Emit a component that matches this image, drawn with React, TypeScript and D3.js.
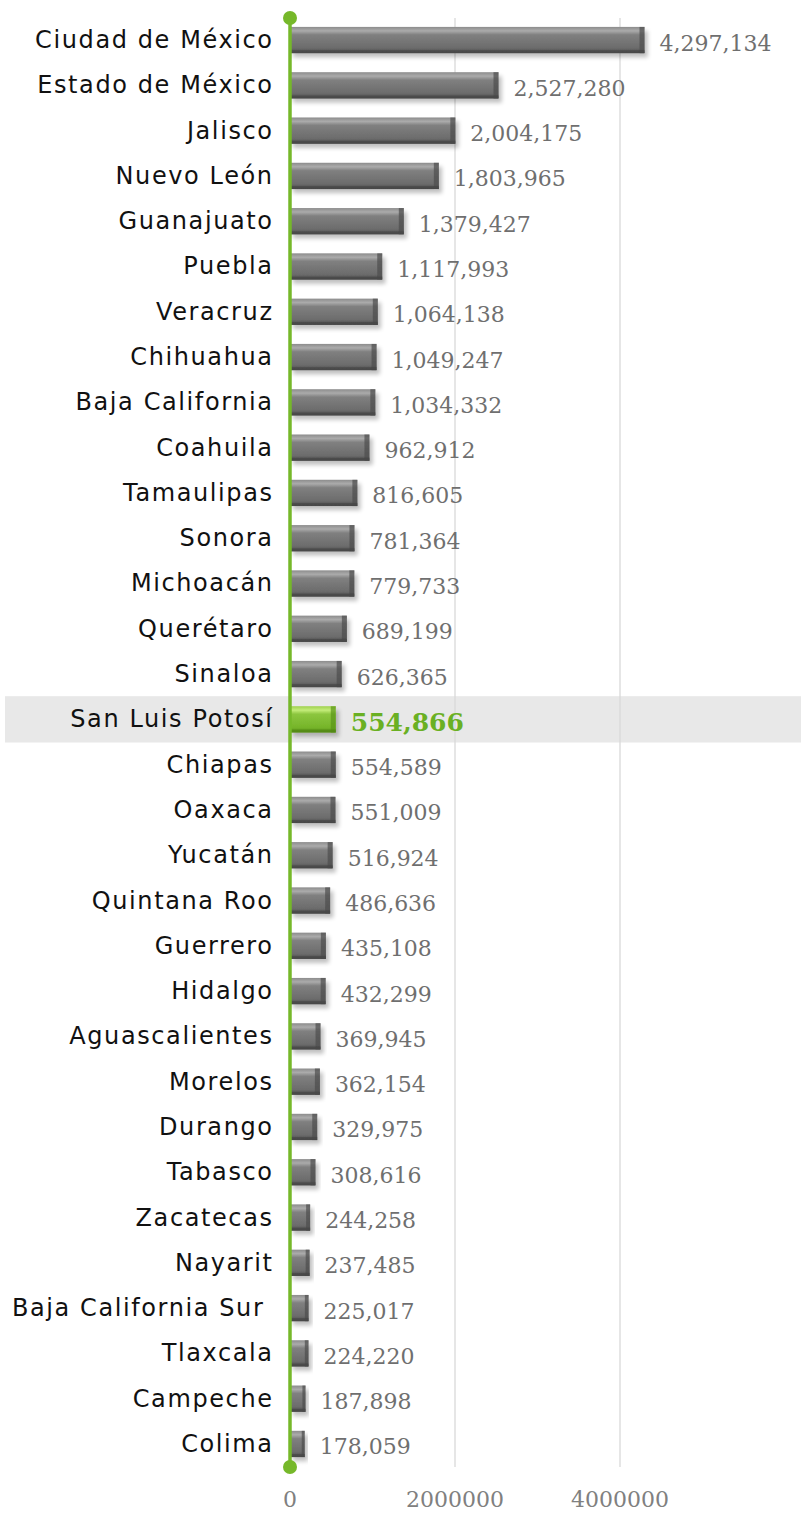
import React from "react";
import * as d3 from "d3";

const states = ["Ciudad de México","Estado de México","Jalisco","Nuevo León","Guanajuato","Puebla","Veracruz","Chihuahua","Baja California","Coahuila","Tamaulipas","Sonora","Michoacán","Querétaro","Sinaloa","San Luis Potosí","Chiapas","Oaxaca","Yucatán","Quintana Roo","Guerrero","Hidalgo","Aguascalientes","Morelos","Durango","Tabasco","Zacatecas","Nayarit","Baja California Sur ","Tlaxcala","Campeche","Colima"];
const values = [4297134,2527280,2004175,1803965,1379427,1117993,1064138,1049247,1034332,962912,816605,781364,779733,689199,626365,554866,554589,551009,516924,486636,435108,432299,369945,362154,329975,308616,244258,237485,225017,224220,187898,178059];
const highlight = "San Luis Potosí";
const ticks = [0, 2000000, 4000000];

export default function App() {
  const W = 801, H = 1514;
  const x = d3.scaleLinear().domain([0, 2000000]).range([290, 455]);
  const y = d3.scaleBand<string>().domain(states).range([17.4, 1466.6]).paddingInner(0.42).paddingOuter(0.21);
  const bh = y.bandwidth();
  const fmt = d3.format(",");
  const serif = "'DejaVu Serif', serif";
  const sans = "'DejaVu Sans', sans-serif";
  const step = y.step();
  const ls = 1.6;
  return (
    <svg width={W} height={H} style={{ position: "absolute", left: 0, top: 0 }}>
      <defs>
        <linearGradient id="gGray" x1="0" y1="0" x2="0" y2="1">
          <stop offset="0" stopColor="#8c8c8c" />
          <stop offset="0.15" stopColor="#ababab" />
          <stop offset="0.3" stopColor="#808080" />
          <stop offset="0.8" stopColor="#6c6c6c" />
          <stop offset="1" stopColor="#4a4a4a" />
        </linearGradient>
        <linearGradient id="gGreen" x1="0" y1="0" x2="0" y2="1">
          <stop offset="0" stopColor="#9fd14d" />
          <stop offset="0.15" stopColor="#c4ec7a" />
          <stop offset="0.3" stopColor="#8cc63f" />
          <stop offset="0.8" stopColor="#76b52a" />
          <stop offset="1" stopColor="#5a9418" />
        </linearGradient>
        <filter id="shadow" x="-10%" y="-30%" width="130%" height="180%">
          <feGaussianBlur in="SourceAlpha" stdDeviation="2" />
          <feOffset dx="3" dy="4" result="b" />
          <feComponentTransfer><feFuncA type="linear" slope="0.25" /></feComponentTransfer>
          <feMerge><feMergeNode /><feMergeNode in="SourceGraphic" /></feMerge>
        </filter>
      </defs>
      <rect x={5} y={(y(highlight) as number) - (step - bh) / 2 - 0.5} width={796} height={step + 1} fill="#e8e8e8" />
      {ticks.slice(1).map(t => (
        <line key={t} x1={x(t)} x2={x(t)} y1={18} y2={1467} stroke="#d9d9d9" strokeWidth={1.3} />
      ))}
      {states.map((s, i) => {
        const v = values[i];
        const y0 = y(s) as number;
        const x1 = x(v);
        const hl = s === highlight;
        const w = x1 - x(0);
        return (
          <g key={s}>
            <g filter="url(#shadow)">
              <rect x={x(0)} y={y0} width={w} height={bh} fill={hl ? "url(#gGreen)" : "url(#gGray)"} />
              <rect x={x1 - Math.min(5, w * 0.2)} y={y0} width={Math.min(5, w * 0.2)} height={bh} fill={hl ? "#5a9418" : "#4d4d4d"} opacity={0.7} />
              <rect x={x(0)} y={y0 + bh - 3} width={w} height={3} fill={hl ? "#4d8010" : "#444"} opacity={0.6} />
            </g>
            <text x={272 + ls} y={y0 + bh / 2} textAnchor="end" dominantBaseline="central"
              fontFamily={sans} fontSize={24} letterSpacing={ls} fill="#111" style={{ whiteSpace: "pre" }}>{s}</text>
            <text x={x1 + 15} y={y0 + bh / 2 + 3} dominantBaseline="central"
              fontFamily={serif} fontSize={hl ? 25 : 22} fontWeight={hl ? "bold" : "normal"}
              fill={hl ? "#6ab023" : "#6f6f6f"}>{fmt(v)}</text>
          </g>
        );
      })}
      <line x1={x(0)} x2={x(0)} y1={18} y2={1467} stroke="#76b82a" strokeWidth={3.5} />
      <circle cx={x(0)} cy={18} r={7} fill="#76b82a" />
      <circle cx={x(0)} cy={1467} r={7} fill="#76b82a" />
      {ticks.map(t => (
        <text key={t} x={x(t)} y={1507} textAnchor="middle"
          fontFamily={serif} fontSize={22} fill="#808080">{t}</text>
      ))}
    </svg>
  );
}
